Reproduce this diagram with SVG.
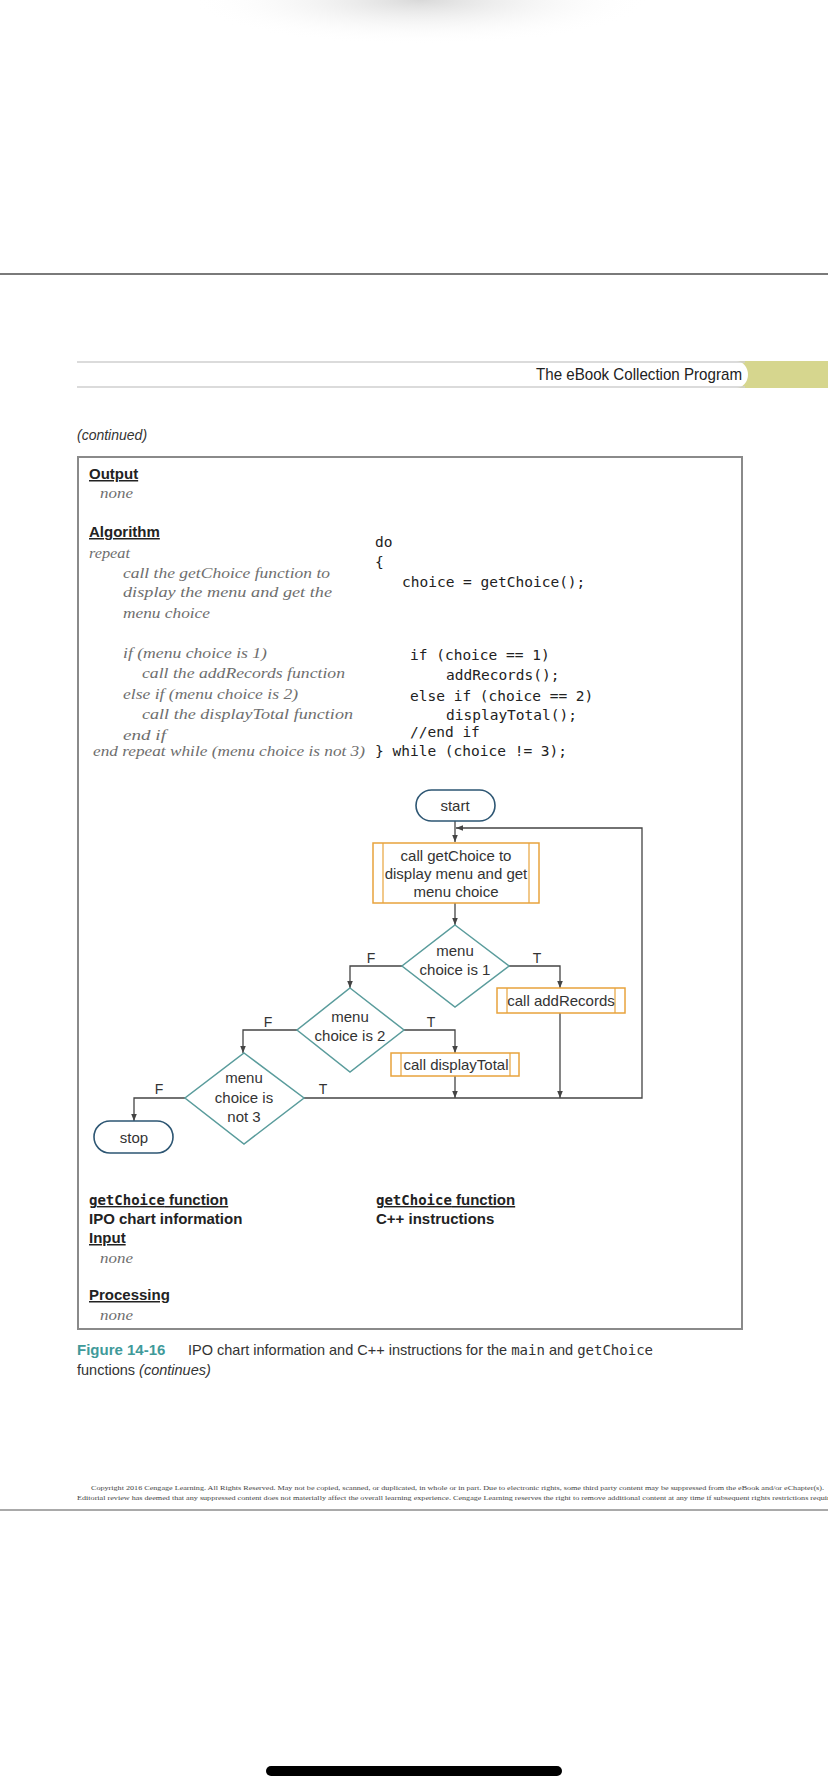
<svg xmlns="http://www.w3.org/2000/svg" width="828" height="1792" viewBox="0 0 828 1792">
<defs>
<radialGradient id="shade" cx="0.5" cy="0.5" r="0.5">
<stop offset="0" stop-color="#cfcfcf" stop-opacity="0.8"/>
<stop offset="1" stop-color="#ffffff" stop-opacity="0"/>
</radialGradient>
<marker id="ah" viewBox="0 0 10 10" refX="10" refY="5" markerWidth="7" markerHeight="7" markerUnits="userSpaceOnUse" orient="auto">
<path d="M0,1 L10,5 L0,9 Z" fill="#444"/>
</marker>
</defs>
<style>
.sans{font-family:"Liberation Sans",Arial,sans-serif}
.hand{font-family:"Liberation Serif","DejaVu Serif",serif;font-style:italic;font-size:15px;fill:#6e6e6e}
.code{font-family:"DejaVu Sans Mono","Liberation Mono",monospace;font-size:14.5px;fill:#222}
.head{font-family:"Liberation Sans",Arial,sans-serif;font-weight:bold;font-size:15px;fill:#222}
.ul{text-decoration:underline}
.fc{font-family:"Liberation Sans",Arial,sans-serif;font-size:15px;fill:#333;text-anchor:middle}
.lbl{font-family:"Liberation Sans",Arial,sans-serif;font-size:14px;fill:#333;text-anchor:middle}
.term{fill:#fff;stroke:#2d5673;stroke-width:1.6}
.proc{fill:#fff;stroke:#e8a33c;stroke-width:1.5}
.bar{fill:none;stroke:#e8a33c;stroke-width:1.2}
.dec{fill:#fff;stroke:#5a9c9c;stroke-width:1.5}
.conn{fill:none;stroke:#444;stroke-width:1.3}
.copy{font-family:"Liberation Serif","Times New Roman",serif;font-size:7px;fill:#444}
</style>
<rect x="0" y="0" width="828" height="1792" fill="#fff"/>
<ellipse cx="420" cy="0" rx="230" ry="45" fill="url(#shade)"/>
<line x1="0" y1="274" x2="828" y2="274" stroke="#7a7a7a" stroke-width="2"/>

<g id="header">
<rect x="736" y="361" width="92" height="27" fill="#d6d68e"/>
<path d="M736,361 A12,13.5 0 0 1 736,388 Z" fill="#fff"/>
<line x1="77" y1="362" x2="745" y2="362" stroke="#cfcfcf" stroke-width="1.5"/>
<line x1="77" y1="387" x2="745" y2="387" stroke="#cfcfcf" stroke-width="1.5"/>
<text x="536" y="380" class="sans" font-size="17" fill="#222" textLength="206" lengthAdjust="spacingAndGlyphs">The eBook Collection Program</text>
</g>

<text x="77" y="440" class="sans" font-size="14" font-style="italic" fill="#333">(continued)</text>
<rect x="78" y="457" width="664" height="872" fill="none" stroke="#8a8a8a" stroke-width="2"/>

<g id="ipo-main">
<text x="89" y="479" class="head ul">Output</text>
<text x="100" y="498" class="hand" textLength="33" lengthAdjust="spacingAndGlyphs">none</text>
<text x="89" y="537" class="head ul">Algorithm</text>
<text x="89" y="558" class="hand" textLength="41" lengthAdjust="spacingAndGlyphs">repeat</text>
<text x="123" y="578" class="hand" textLength="207" lengthAdjust="spacingAndGlyphs">call the getChoice function to</text>
<text x="123" y="597" class="hand" textLength="209" lengthAdjust="spacingAndGlyphs">display the menu and get the</text>
<text x="123" y="618" class="hand" textLength="87" lengthAdjust="spacingAndGlyphs">menu choice</text>
<text x="123" y="658" class="hand" textLength="144" lengthAdjust="spacingAndGlyphs">if (menu choice is 1)</text>
<text x="142" y="678" class="hand" textLength="203" lengthAdjust="spacingAndGlyphs">call the addRecords function</text>
<text x="123" y="699" class="hand" textLength="175" lengthAdjust="spacingAndGlyphs">else if (menu choice is 2)</text>
<text x="142" y="719" class="hand" textLength="211" lengthAdjust="spacingAndGlyphs">call the displayTotal function</text>
<text x="123" y="740" class="hand" textLength="43" lengthAdjust="spacingAndGlyphs">end if</text>
<text x="93" y="756" class="hand" textLength="272" lengthAdjust="spacingAndGlyphs">end repeat while (menu choice is not 3)</text>
</g>

<g id="code-main">
<text x="375" y="547" class="code">do</text>
<text x="375" y="567" class="code">{</text>
<text x="402" y="587" class="code">choice = getChoice();</text>
<text x="410" y="660" class="code">if (choice == 1)</text>
<text x="446" y="680" class="code">addRecords();</text>
<text x="410" y="701" class="code">else if (choice == 2)</text>
<text x="446" y="720" class="code">displayTotal();</text>
<text x="410" y="737" class="code">//end if</text>
<text x="375" y="756" class="code">} while (choice != 3);</text>
</g>

<g id="connectors">
<path class="conn" d="M455,821 V842" marker-end="url(#ah)"/>
<path class="conn" d="M455,903 V925" marker-end="url(#ah)"/>
<path class="conn" d="M509,966 H560 V988" marker-end="url(#ah)"/>
<path class="conn" d="M402,966 H350 V988" marker-end="url(#ah)"/>
<path class="conn" d="M560,1013 V1098" marker-end="url(#ah)"/>
<path class="conn" d="M404,1030 H455 V1053" marker-end="url(#ah)"/>
<path class="conn" d="M297,1030 H243 V1053" marker-end="url(#ah)"/>
<path class="conn" d="M455,1076 V1098" marker-end="url(#ah)"/>
<path class="conn" d="M304,1098 H642 V828 H456" marker-end="url(#ah)"/>
<path class="conn" d="M185,1098 H134 V1121" marker-end="url(#ah)"/>
<text x="371" y="963" class="lbl">F</text>
<text x="537" y="963" class="lbl">T</text>
<text x="268" y="1027" class="lbl">F</text>
<text x="431" y="1027" class="lbl">T</text>
<text x="159" y="1094" class="lbl">F</text>
<text x="323" y="1094" class="lbl">T</text>
</g>

<g id="start">
<rect class="term" x="416" y="790" width="79" height="31" rx="15.5"/>
<text x="455" y="811" class="fc">start</text>
</g>
<g id="getchoice">
<rect class="proc" x="373" y="843" width="166" height="60"/>
<line class="bar" x1="383" y1="843" x2="383" y2="903"/>
<line class="bar" x1="529" y1="843" x2="529" y2="903"/>
<text x="456" y="861" class="fc">call getChoice to</text>
<text x="456" y="879" class="fc">display menu and get</text>
<text x="456" y="897" class="fc">menu choice</text>
</g>
<g id="decision1">
<polygon class="dec" points="455,925 509,966 455,1007 402,966"/>
<text x="455" y="956" class="fc">menu</text>
<text x="455" y="975" class="fc">choice is 1</text>
</g>
<g id="addrecords">
<rect class="proc" x="497" y="988" width="128" height="25"/>
<line class="bar" x1="507" y1="988" x2="507" y2="1013"/>
<line class="bar" x1="615" y1="988" x2="615" y2="1013"/>
<text x="561" y="1006" class="fc">call addRecords</text>
</g>
<g id="decision2">
<polygon class="dec" points="350,988 404,1030 350,1072 297,1030"/>
<text x="350" y="1022" class="fc">menu</text>
<text x="350" y="1041" class="fc">choice is 2</text>
</g>
<g id="displaytotal">
<rect class="proc" x="391" y="1053" width="128" height="23"/>
<line class="bar" x1="401" y1="1053" x2="401" y2="1076"/>
<line class="bar" x1="510" y1="1053" x2="510" y2="1076"/>
<text x="456" y="1070" class="fc">call displayTotal</text>
</g>
<g id="decision3">
<polygon class="dec" points="244,1053 304,1098 244,1144 185,1098"/>
<text x="244" y="1083" class="fc">menu</text>
<text x="244" y="1103" class="fc">choice is</text>
<text x="244" y="1122" class="fc">not 3</text>
</g>
<g id="stop">
<rect class="term" x="94" y="1121" width="79" height="32" rx="16"/>
<text x="134" y="1143" class="fc">stop</text>
</g>

<g id="ipo-getchoice">
<text x="89" y="1205" class="head ul"><tspan font-family="DejaVu Sans Mono,monospace" font-size="14">getChoice</tspan> function</text>
<text x="89" y="1224" class="head">IPO chart information</text>
<text x="89" y="1243" class="head ul">Input</text>
<text x="100" y="1263" class="hand" textLength="33" lengthAdjust="spacingAndGlyphs">none</text>
<text x="89" y="1300" class="head ul">Processing</text>
<text x="100" y="1320" class="hand" textLength="33" lengthAdjust="spacingAndGlyphs">none</text>
<text x="376" y="1205" class="head ul"><tspan font-family="DejaVu Sans Mono,monospace" font-size="14">getChoice</tspan> function</text>
<text x="376" y="1224" class="head">C++ instructions</text>
</g>

<g id="caption">
<text x="77" y="1355" class="sans" font-size="15" font-weight="bold" fill="#3f9a9a">Figure 14-16</text>
<text x="188" y="1355" class="sans" font-size="14.5" fill="#333">IPO chart information and C++ instructions for the <tspan font-family="DejaVu Sans Mono,monospace" font-size="14">main</tspan> and <tspan font-family="DejaVu Sans Mono,monospace" font-size="14">getChoice</tspan></text>
<text x="77" y="1375" class="sans" font-size="14.5" fill="#333">functions <tspan font-style="italic">(continues)</tspan></text>
</g>

<g id="copyright">
<text x="91" y="1490" class="copy" textLength="733" lengthAdjust="spacingAndGlyphs">Copyright 2016 Cengage Learning. All Rights Reserved. May not be copied, scanned, or duplicated, in whole or in part. Due to electronic rights, some third party content may be suppressed from the eBook and/or eChapter(s).</text>
<text x="77" y="1500" class="copy" textLength="765" lengthAdjust="spacingAndGlyphs">Editorial review has deemed that any suppressed content does not materially affect the overall learning experience. Cengage Learning reserves the right to remove additional content at any time if subsequent rights restrictions require it.</text>
<line x1="0" y1="1510" x2="828" y2="1510" stroke="#555" stroke-width="1"/>
</g>

<rect x="266" y="1766" width="296" height="10" rx="5" fill="#000"/>
</svg>
